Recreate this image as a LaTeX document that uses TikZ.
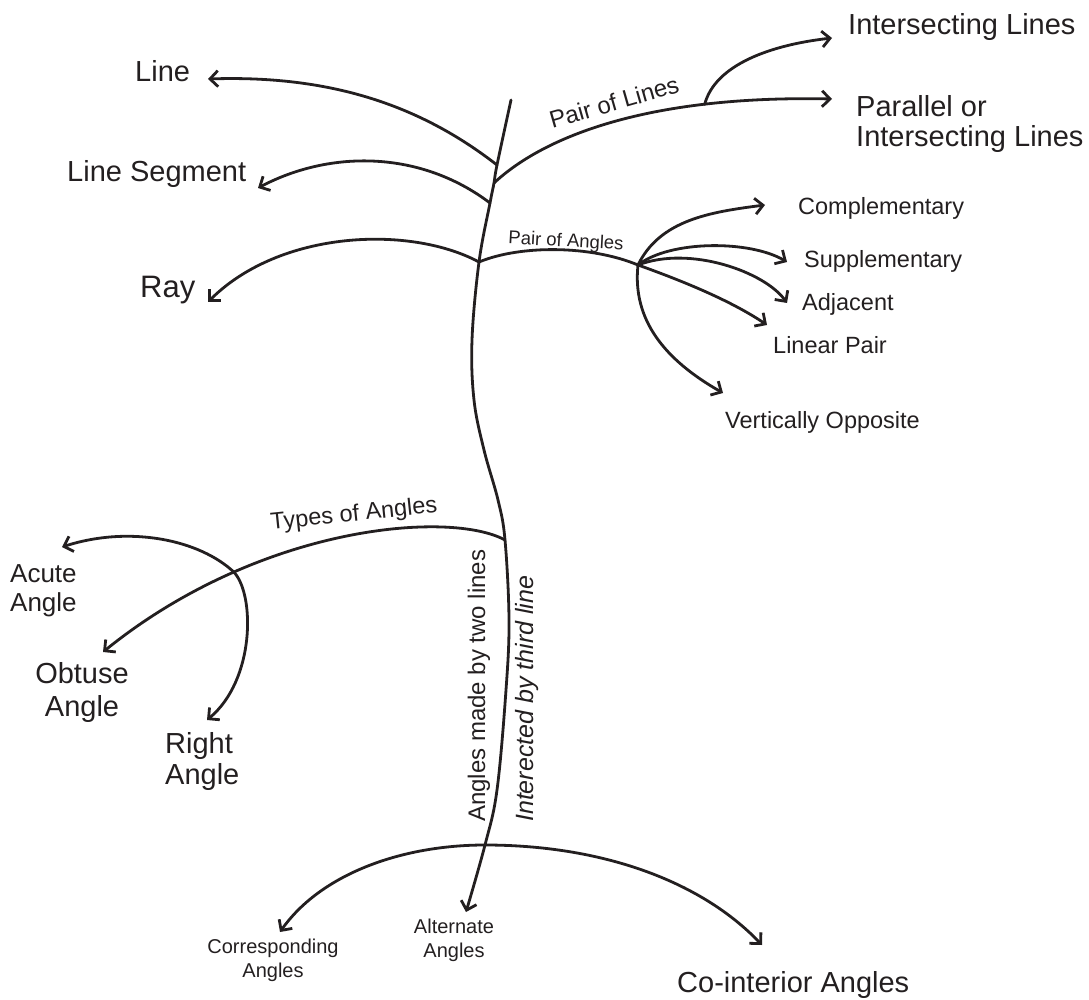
\documentclass[tikz,border=0pt]{standalone}
\usepackage{fontspec}
\setmainfont{Liberation Sans}
\usetikzlibrary{arrows.meta}
\definecolor{ink}{RGB}{35,31,32}
\newcommand\fsz[2]{\fontsize{#1pt}{#2pt}\selectfont}

\begin{document}
\begin{tikzpicture}[x=1pt, y=-1pt,
    stem/.style={draw=ink, line width=2.8pt, line cap=round},
    arr/.style={stem, -{Straight Barb[length=8pt, width=16pt]}},
    lbl/.style={inner sep=0pt, text=ink},
    big/.style={lbl, font=\fsz{29}{30}},
    mid/.style={lbl, font=\fsz{23.5}{28}},
    small/.style={lbl, font=\fsz{20}{24}}]

\useasboundingbox (0,0) rectangle (1089,1000);

% Points on the stem
\coordinate (top)    at (511,100);
\coordinate (jLine)  at (497,165);
\coordinate (jPL)    at (494,183);
\coordinate (jSeg)   at (490,203);
\coordinate (jPA)    at (479,262);
\coordinate (jTypes) at (505,540);
\coordinate (jCross) at (485,845);
\coordinate (tAlt)   at (466,912);

% Arrow ends
\coordinate (tLine)  at (208,79);
\coordinate (tSeg)   at (258,188);
\coordinate (tRay)   at (208,302);
\coordinate (tPar)   at (832,99);
\coordinate (tInt)   at (832,38);
\coordinate (jFan)   at (638,265);
\coordinate (tObt)   at (103,652);
\coordinate (tAcu)   at (62,547);
\coordinate (tRight) at (207,720);
\coordinate (tCor)   at (280,932);
\coordinate (tCoi)   at (762,945);

% Stem
\draw[arr] plot[smooth, tension=0.6] coordinates {(top) (jLine) (jPL) (jSeg) (jPA)
    (472,340) (474,400) (484,450) (498,500) (jTypes) (509,620) (506,690)
    (497,790) (jCross) (tAlt)};

% Left branches
\draw[arr] (jLine) .. controls (420,105) and (330,75) .. (tLine);
\draw[arr] (jSeg) .. controls (420,150) and (330,150) .. (tSeg);
\draw[arr] (jPA) .. controls (410,225) and (280,230) .. (tRay);

% Pair of lines
\draw[arr] (jPL) .. controls (540,140) and (640,95) .. coordinate[pos=0.75] (jInt) (tPar);
\draw[arr] (jInt) .. controls (715,65) and (770,45) .. (tInt);

% Pair of angles
\draw[stem] (jPA) .. controls (520,245) and (590,245) .. (jFan);
\foreach \tip/\ax/\ay/\bx/\by/\ex/\ey in {
    comp/660/220/710/212/765/205,
    supp/670/240/750/240/787/262,
    adj/690/245/765/272/787/303,
    lin/680/280/730/300/767/325,
    vert/632/320/665/360/723/393} {
    \coordinate (t\tip) at (\ex,\ey);
    \draw[arr] (jFan) .. controls (\ax,\ay) and (\bx,\by) .. (t\tip);
}

% Types of angles
\draw[arr] (jTypes) .. controls (450,510) and (260,525) .. coordinate[pos=0.73] (jAR) (tObt);
\draw[arr] (jAR) .. controls (200,540) and (130,525) .. (tAcu);
\draw[arr] (jAR) .. controls (255,595) and (255,680) .. (tRight);

% Third line
\draw[arr] (jCross) .. controls (400,845) and (320,875) .. (tCor);
\draw[arr] (jCross) .. controls (600,845) and (700,880) .. (tCoi);

% Labels (base of a two-line label is its last line)
\node[big, anchor=base west] (intL) at (848,35) {Intersecting Lines};
\node[big, anchor=base west, align=left] (parL) at (856,147) {Parallel or\\Intersecting Lines};
\node[big, anchor=base west] (line) at (135,82) {Line};
\node[big, anchor=base west] (seg) at (67,182) {Line Segment};
\node[lbl, font=\fsz{31}{36}, anchor=base west] (ray) at (140,298) {Ray};
\node[lbl, font=\fsz{24}{28}, rotate=16] (pairL) at (614,102) {Pair of Lines};
\node[lbl, font=\fsz{18.5}{22}, rotate=-3] (pairA) at (566,242) {Pair of Angles};

\node[mid, anchor=base west] (comp) at (798,215) {Complementary};
\node[mid, anchor=base west] (supp) at (804,268) {Supplementary};
\node[mid, anchor=base west] (adj) at (802,310) {Adjacent};
\node[mid, anchor=base west] (lin) at (773,353) {Linear Pair};
\node[mid, anchor=base west] (vert) at (725,428) {Vertically Opposite};

\node[mid, rotate=6] (types) at (354,515) {Types of Angles};
\node[lbl, font=\fsz{26}{29}, align=left, anchor=base west] (acute) at (10,611) {Acute\\Angle};
\node[lbl, font=\fsz{29}{33}, align=center, anchor=base] (obtuse) at (82,716) {Obtuse\\Angle};
\node[lbl, font=\fsz{29}{31}, align=left, anchor=base west] (right) at (165,784) {Right\\Angle};

\node[lbl, font=\fsz{24}{28}, rotate=90, anchor=base west] (two) at (485,822) {Angles made by two lines};
\node[lbl, font=\itshape\fsz{25}{28}, rotate=90, anchor=base west] (third) at (533,822) {Interected by third line};

\node[small, align=center, anchor=base] (corr) at (273,977) {Corresponding\\Angles};
\node[small, align=center, anchor=base] (alt) at (454,957) {Alternate\\Angles};
\node[big, anchor=base west] (coint) at (677,992) {Co-interior Angles};

\end{tikzpicture}
\end{document}
